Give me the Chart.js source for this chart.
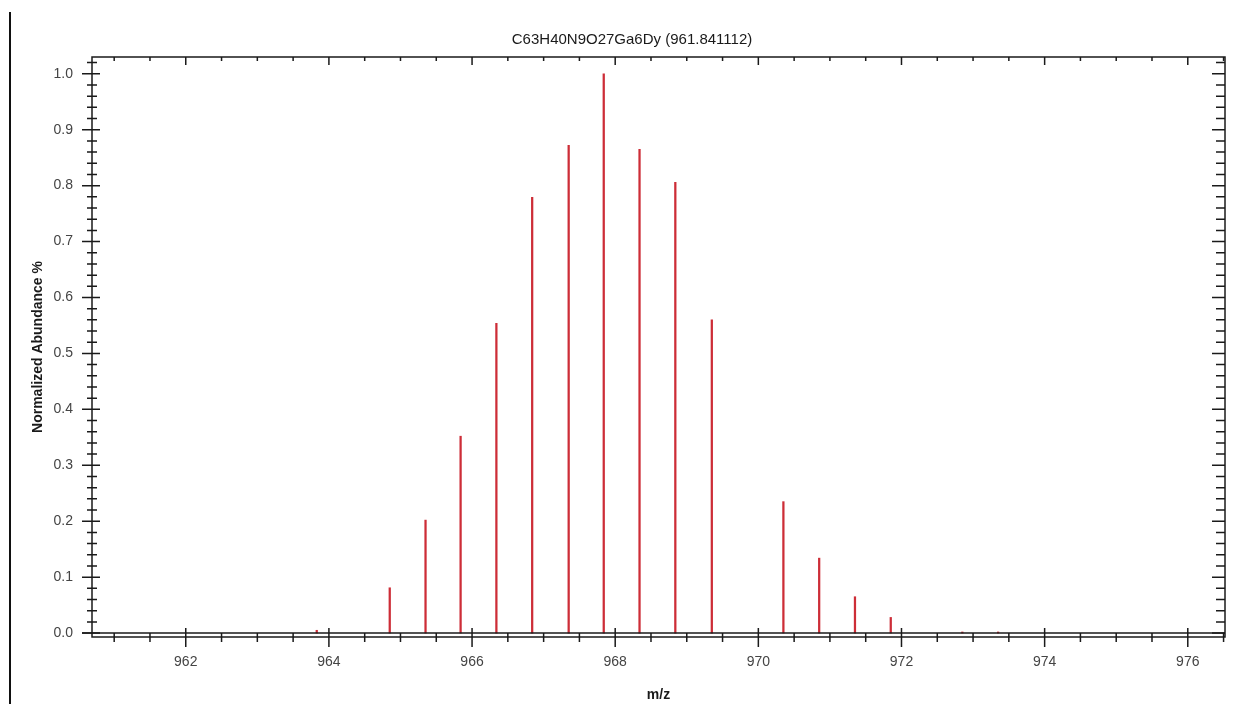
<!DOCTYPE html>
<html>
<head>
<meta charset="utf-8">
<script src="https://cdn.jsdelivr.net/npm/chart.js@4.4.1/dist/chart.umd.min.js"></script>
<style>
  body { margin: 0; background: #fff; }
  #wrap { position: relative; width: 1246px; height: 704px; }
  #edge { position: absolute; left: 9px; top: 12px; bottom: 0; width: 2px; background: #111; }
</style>
</head>
<body>
<div id="wrap">
  <div id="edge"></div>
  <canvas id="chart" width="1246" height="704"></canvas>
</div>
<script>
// isotope peaks
var mz = [963.83, 964.85, 965.35, 965.84, 966.34, 966.84, 967.35, 967.84, 968.34, 968.84, 969.35, 970.35, 970.85, 971.35, 971.85, 972.85, 973.35];
var abundance = [0.005, 0.081, 0.202, 0.352, 0.554, 0.779, 0.872, 1.0, 0.865, 0.806, 0.560, 0.235, 0.134, 0.065, 0.028, 0.002, 0.002];

var xTicks = [962, 964, 966, 968, 970, 972, 974, 976];
var yTicks = [0.0, 0.1, 0.2, 0.3, 0.4, 0.5, 0.6, 0.7, 0.8, 0.9, 1.0];

var font = "'Liberation Sans', Arial, sans-serif";

// frame + crossing tick marks like the original software draws them
var frame = {
    id: 'frame',
    afterDraw: function (chart) {
        var c = chart.ctx, a = chart.chartArea;
        var xs = chart.scales.x, ys = chart.scales.y;
        c.save();
        c.strokeStyle = '#1a1a1a';
        c.lineWidth = 1.5;
        c.strokeRect(a.left, a.top, a.right - a.left, a.bottom - a.top);

        var y0 = ys.getPixelForValue(0);
        c.beginPath();
        c.moveTo(a.left - 10, y0);
        c.lineTo(a.right, y0);
        c.stroke();

        c.beginPath();
        // x minor / major ticks
        for (var v = 961; v <= 976.5; v += 0.5) {
            var px = xs.getPixelForValue(v);
            if (px < a.left || px > a.right) continue;
            var major = xTicks.indexOf(v) >= 0;
            c.moveTo(px, major ? y0 - 5 : y0);
            c.lineTo(px, major ? a.bottom + 10 : a.bottom + 5);
            c.moveTo(px, a.top);
            c.lineTo(px, a.top + (major ? 8 : 4));
        }
        // y minor / major ticks
        for (var i = 0; i <= 51; i++) {
            var val = i * 0.02;
            var py = ys.getPixelForValue(val);
            if (py < a.top) continue;
            var maj = i % 5 === 0;
            c.moveTo(a.left - (maj ? 10 : 5), py);
            c.lineTo(a.left + (maj ? 8 : 5), py);
            c.moveTo(a.right, py);
            c.lineTo(a.right - (maj ? 13 : 9), py);
        }
        c.stroke();
        c.restore();
    }
};

var ctx = document.getElementById('chart').getContext('2d');
var chart = new Chart(ctx, {
    type: 'bar',
    data: {
        datasets: [{
            data: mz.map(function (m, i) { return { x: m, y: abundance[i] }; }),
            backgroundColor: 'rgb(205, 45, 55)',
            borderWidth: 0,
            barThickness: 1.6
        }]
    },
    options: {
        responsive: false,
        animation: false,
        layout: { padding: { left: 18, right: 0, top: 0, bottom: 0 } },
        plugins: {
            legend: { display: false },
            tooltip: { enabled: false },
            title: {
                display: true,
                text: 'C63H40N9O27Ga6Dy (961.841112)',
                color: '#1a1a1a',
                font: { family: font, size: 15, weight: 'normal', lineHeight: 1.2 },
                padding: { top: 31, bottom: 8 }
            }
        },
        scales: {
            x: {
                type: 'linear',
                offset: false,
                min: 960.69,
                max: 976.52,
                afterBuildTicks: function (s) { s.ticks = xTicks.map(function (v) { return { value: v }; }); },
                afterFit: function (s) { s.height = 67; },
                grid: { display: false, drawTicks: false, offset: false },
                border: { display: false },
                ticks: {
                    padding: 16.6,
                    color: '#444',
                    font: { family: font, size: 14 },
                    callback: function (v) { return String(v); }
                },
                title: {
                    display: true,
                    text: 'm/z',
                    color: '#1a1a1a',
                    font: { family: font, size: 14, weight: 'bold', lineHeight: 1.2 },
                    padding: { top: 9.6, bottom: 0 }
                }
            },
            y: {
                min: -0.007,
                max: 1.03,
                afterBuildTicks: function (s) { s.ticks = yTicks.map(function (v) { return { value: v }; }); },
                afterFit: function (s) { s.width = 74; },
                grid: { display: false, drawTicks: false },
                border: { display: false },
                ticks: {
                    padding: 19,
                    color: '#444',
                    font: { family: font, size: 14 },
                    callback: function (v) { return Number(v).toFixed(1); }
                },
                title: {
                    display: true,
                    text: 'Normalized Abundance %',
                    color: '#1a1a1a',
                    font: { family: font, size: 14, weight: 'bold', lineHeight: 1.2 },
                    padding: { top: 11.6, bottom: 0 }
                }
            },
            y2: {
                position: 'right',
                display: true,
                grid: { display: false, drawTicks: false },
                border: { display: false },
                ticks: { display: false },
                afterFit: function (s) { s.width = 21; }
            }
        }
    },
    plugins: [frame]
});
</script>
</body>
</html>
